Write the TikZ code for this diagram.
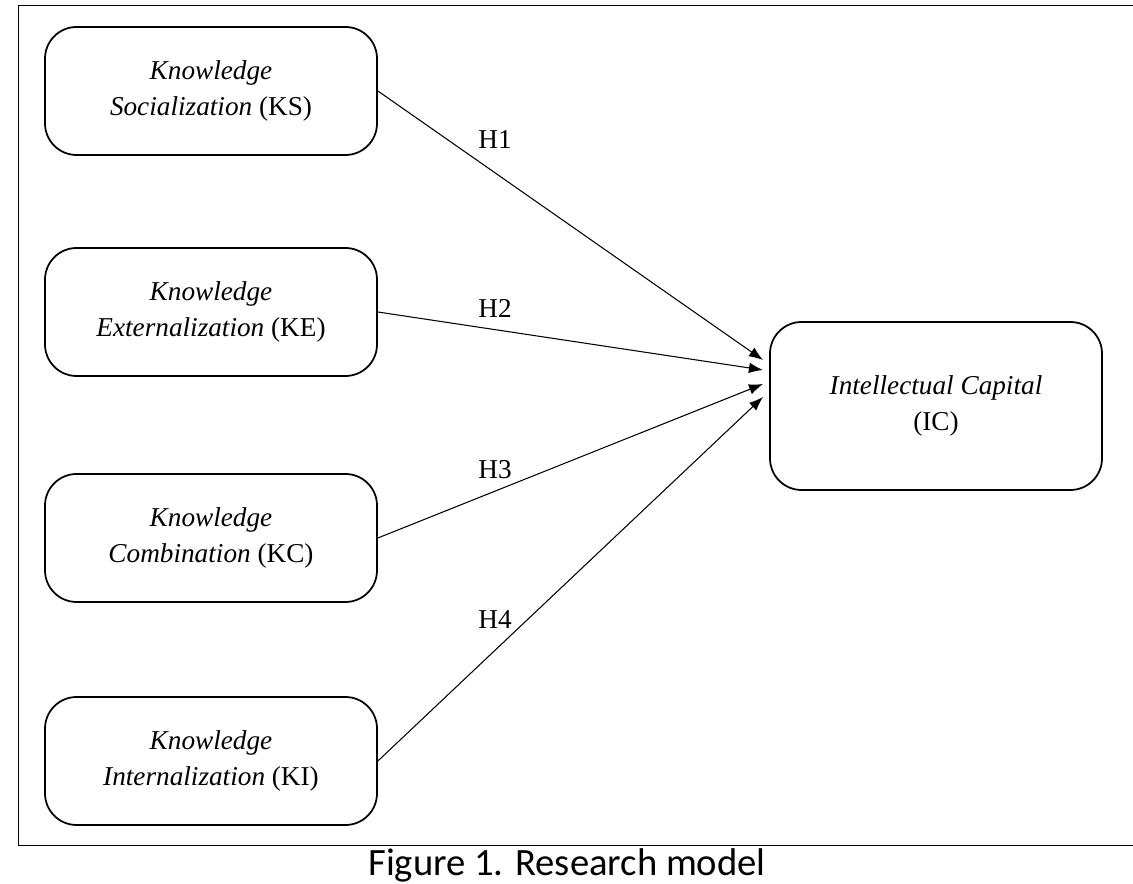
\documentclass[tikz,border=0pt]{standalone}
\usepackage{fontspec}
\setmainfont{Liberation Serif}
\newfontfamily\capfont{Carlito}
\usetikzlibrary{arrows.meta}
\begin{document}
\begin{tikzpicture}[x=0.02cm,y=-0.02cm,
  construct/.style={draw,line width=1pt,rounded corners=18pt,minimum width=332*0.02cm,
    minimum height=128*0.02cm,align=center,font=\fontsize{15.5}{21}\selectfont},
  path/.style={-{Latex[length=8pt,width=6pt]},semithick},
  hyp/.style={font=\fontsize{15.5}{18}\selectfont}]
  \useasboundingbox (0,0) rectangle (1133,884);
  % frame
  \draw (1133,5) -- (18,5) -- (18,845) -- (1133,845);
  % constructs
  \node[construct] (ks) at (211,91) {\textit{Knowledge}\\\textit{Socialization} (KS)};
  \node[construct] (ke) at (211,312) {\textit{Knowledge}\\\textit{Externalization} (KE)};
  \node[construct] (kc) at (211,538) {\textit{Knowledge}\\\textit{Combination} (KC)};
  \node[construct] (ki) at (211,761) {\textit{Knowledge}\\\textit{Internalization} (KI)};
  \node[construct,minimum height=168*0.02cm] (ic) at (936,406) {\textit{Intellectual Capital}\\(IC)};
  % paths
  \coordinate (e1) at (763,360);
  \coordinate (e2) at (763,370);
  \coordinate (e3) at (763,384);
  \coordinate (e4) at (763,397);
  \draw[path] (ks.east) -- (e1);
  \draw[path] (ke.east) -- (e2);
  \draw[path] (kc.east) -- (e3);
  \draw[path] (ki.east) -- (e4);
  % labels
  \node[hyp] (h1) at (495,140) {H1};
  \node[hyp] (h2) at (495,308) {H2};
  \node[hyp] (h3) at (495,470) {H3};
  \node[hyp] (h4) at (495,620) {H4};
  \node[font=\capfont\fontsize{22}{25}\selectfont] (cap) at (567,865) {Figure 1. Research model};
\end{tikzpicture}
\end{document}
